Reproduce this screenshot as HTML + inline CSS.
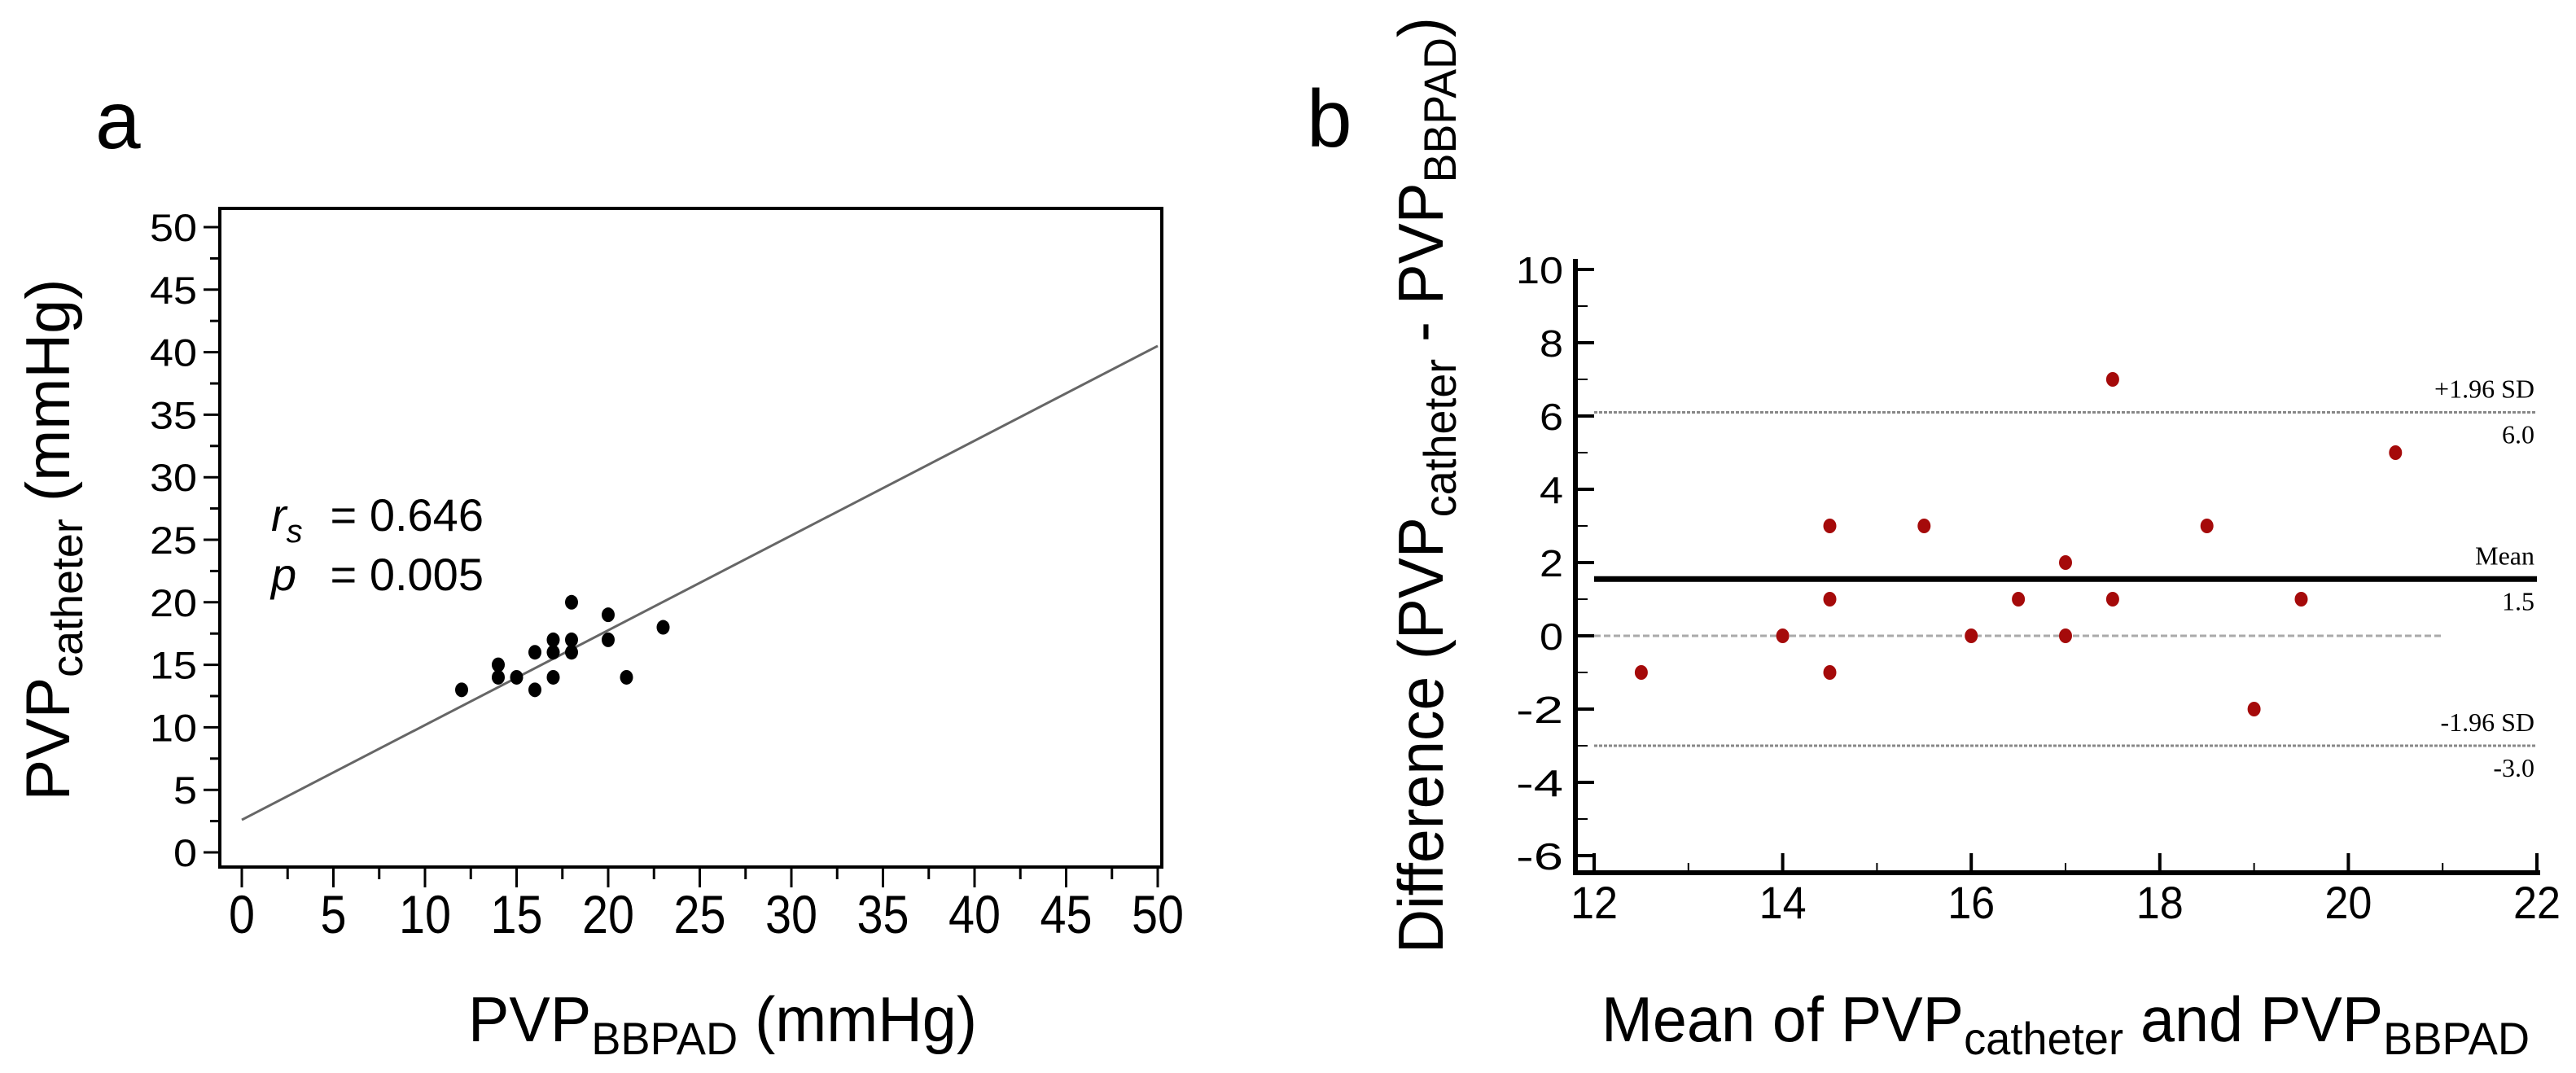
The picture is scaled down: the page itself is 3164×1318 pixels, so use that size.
<!DOCTYPE html>
<html><head><meta charset="utf-8"><style>
html,body{margin:0;padding:0;background:#fff;}
svg{display:block;}
text{font-family:"Liberation Sans",sans-serif;fill:#000;}
.serif{font-family:"Liberation Serif",serif;}
</style></head><body>
<svg id="fig" width="3164" height="1318" viewBox="0 0 3164 1318" xmlns="http://www.w3.org/2000/svg">
<rect width="3164" height="1318" fill="#fff"/>
<g id="panelA"></g>
<g id="panelB"></g>
</svg>
<script>
// Panel a data
const aX = [12,14,14,15,16,16,17,17,17,18,18,18,20,20,21,23];
const aY = [13,15,14,14,16,13,17,16,14,20,17,16,19,17,14,18];
const aTicks = [0,5,10,15,20,25,30,35,40,45,50];
const aFit = [[0,2.6],[50,40.5]];
// Panel b data
const bX = [12.5,14,14.5,14.5,14.5,15.5,16,16.5,17,17,17.5,17.5,18.5,19,19.5,20.5];
const bY = [-1,0,3,1,-1,3,0,1,2,0,7,1,3,-2,1,5];
const bXTicks = [12,14,16,18,20,22];
const bYTicks = [10,8,6,4,2,0,-2,-4,-6];
const bLimits = [6.1,1.55,-3.0];
const bLimitLabels = ["+1.96 SD","Mean","-1.96 SD"];
const bLimitValues = ["6.0","1.5","-3.0"];

const NS="http://www.w3.org/2000/svg";
function mk(parent,tag,attrs,txt){const e=document.createElementNS(NS,tag);for(const k in attrs)e.setAttribute(k,attrs[k]);if(txt!==undefined)e.textContent=txt;parent.appendChild(e);return e;}

// ---------- Panel a ----------
const A=document.getElementById('panelA');
const ax=v=>297+(1422-297)*v/50;
const ay=v=>1047-(1047-279)*v/50;
let t;
t=mk(A,'text',{x:117,y:182,'font-size':100});t.textContent='a';


let box=mk(A,'rect',{x:270,y:256,width:1157,height:809,fill:'none',stroke:'#000','stroke-width':4});


for(let v=0;v<=50;v+=2.5){
  const major=v%5===0;
  let l=mk(A,'line',{x1:major?250:258,x2:270,y1:ay(v),y2:ay(v),stroke:'#000','stroke-width':3});
  
  
  let lx=mk(A,'line',{x1:ax(v),x2:ax(v),y1:1065,y2:major?1090:1080,stroke:'#000','stroke-width':3});
  
  
}
aTicks.forEach(v=>{
  let ty=mk(A,'text',{x:242,y:ay(v)+17,'font-size':47,'text-anchor':'end',textLength:String(v).length*29,lengthAdjust:'spacingAndGlyphs'},String(v));
  
  
  let tx=mk(A,'text',{x:ax(v),y:1146,'font-size':66,'text-anchor':'middle',textLength:String(v).length*32,lengthAdjust:'spacingAndGlyphs'},String(v));
  
  
});
let fit=mk(A,'line',{x1:ax(aFit[0][0]),y1:ay(aFit[0][1]),x2:ax(aFit[1][0]),y2:ay(aFit[1][1]),stroke:'#666','stroke-width':3});


aX.forEach((x,i)=>{
  let c=mk(A,'ellipse',{cx:ax(x),cy:ay(aY[i]),rx:8,ry:9,fill:'#000'});
  
  
});
let st=mk(A,'text',{x:333,y:652,'font-size':56});


st.innerHTML='<tspan font-style="italic">r</tspan><tspan font-style="italic" font-size="40" dy="14">s</tspan><tspan dy="-14" x="390"> = 0.646</tspan>';
let sp=mk(A,'text',{x:333,y:725,'font-size':56});


sp.innerHTML='<tspan font-style="italic">p</tspan><tspan x="390"> = 0.005</tspan>';
let ayt=mk(A,'text',{transform:'translate(85,663) rotate(-90)','font-size':76,'text-anchor':'middle',textLength:641,lengthAdjust:'spacingAndGlyphs'});


ayt.innerHTML='PVP<tspan font-size="54" dy="16">catheter</tspan><tspan dy="-16"> (mmHg)</tspan>';
let axt=mk(A,'text',{x:575,y:1279,'font-size':78,textLength:625,lengthAdjust:'spacingAndGlyphs'});


axt.innerHTML='PVP<tspan font-size="56" dy="16">BBPAD</tspan><tspan dy="-16"> (mmHg)</tspan>';

// ---------- Panel b ----------
const B=document.getElementById('panelB');
const bx=v=>1958+(3116-1958)*(v-12)/10;
const by=v=>781-(v*45);
t=mk(B,'text',{x:1605,y:180,'font-size':100},'b');


let va=mk(B,'line',{x1:1935,y1:318,x2:1935,y2:1074,stroke:'#000','stroke-width':6});


let ha=mk(B,'line',{x1:1932,y1:1072,x2:3120,y2:1072,stroke:'#000','stroke-width':6});


mk(B,'rect',{x:1935,y:by(-6),width:23,height:1072-by(-6),fill:'none',stroke:'#000','stroke-width':4});
for(let v=-6;v<=10;v++){
  const major=v%2===0;
  let l=mk(B,'line',{x1:1935,x2:major?1958:1950,y1:by(v),y2:by(v),stroke:'#000','stroke-width':major?4:2});
  
  
}
for(let v=12;v<=22;v++){
  const major=v%2===0;
  let l=mk(B,'line',{x1:bx(v),x2:bx(v),y1:1072,y2:major?1048:1060,stroke:'#000','stroke-width':major?4:2});
  
  
}
bYTicks.forEach(v=>{
  const s=String(v);
  let ty=mk(B,'text',{x:1920,y:by(v)+17,'font-size':46,'text-anchor':'end',textLength:s.length*29,lengthAdjust:'spacingAndGlyphs'},s);
  
  
});
bXTicks.forEach(v=>{
  let tx=mk(B,'text',{x:bx(v),y:1128,'font-size':56,'text-anchor':'middle',textLength:58,lengthAdjust:'spacingAndGlyphs'},String(v));
  
  
});
let zl=mk(B,'line',{x1:1958,x2:bx(21),y1:by(0),y2:by(0),stroke:'#aaa','stroke-width':3,'stroke-dasharray':'8 4'});


bLimits.forEach((v,i)=>{
  const mean=i===1;
  let l=mk(B,'line',{x1:1958,x2:3116,y1:by(v),y2:by(v),stroke:mean?'#000':'#888','stroke-width':mean?7:3,'stroke-dasharray':mean?'none':'4 2'});
  
  
  let lt=mk(B,'text',{x:3113,y:by(v)-18,'font-size':32,'text-anchor':'end','class':'serif'},bLimitLabels[i]);
  
  
  let lv=mk(B,'text',{x:3113,y:by(v)+38,'font-size':32,'text-anchor':'end','class':'serif'},bLimitValues[i]);
  
  
});
bX.forEach((x,i)=>{
  let c=mk(B,'ellipse',{cx:bx(x),cy:by(bY[i]),rx:8,ry:9,fill:'#a50a0a'});
  
  
});
let byt=mk(B,'text',{transform:'translate(1772,596) rotate(-90)','font-size':78,'text-anchor':'middle',textLength:1150,lengthAdjust:'spacingAndGlyphs'});


byt.innerHTML='Difference (PVP<tspan font-size="56" dy="16">catheter</tspan><tspan dy="-16"> - PVP</tspan><tspan font-size="56" dy="16">BBPAD</tspan><tspan dy="-16">)</tspan>';
let bxt=mk(B,'text',{x:1967,y:1279,'font-size':78,textLength:1140,lengthAdjust:'spacingAndGlyphs'});


bxt.innerHTML='Mean of PVP<tspan font-size="56" dy="16">catheter</tspan><tspan dy="-16"> and PVP</tspan><tspan font-size="56" dy="16">BBPAD</tspan>';
</script>
</body></html>
